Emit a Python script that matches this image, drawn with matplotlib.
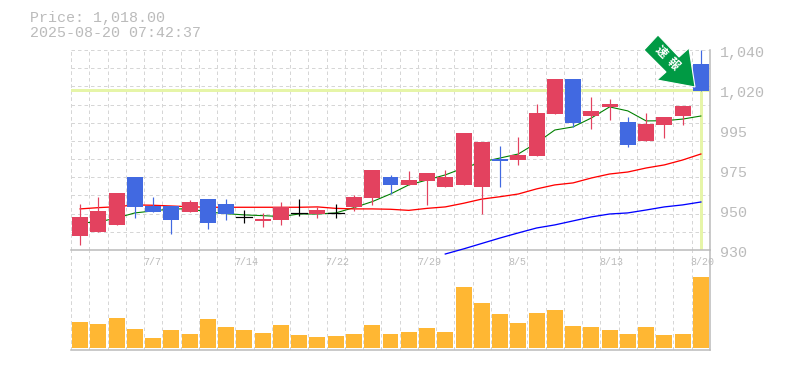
import matplotlib
matplotlib.use('Agg')
import matplotlib.pyplot as plt
import matplotlib.ticker as ticker
from matplotlib.patches import Polygon

# values
dates = ['7/7', '7/14', '7/22', '7/29', '8/5', '8/13', '8/20']
date_pos = [4, 9, 14, 19, 24, 29, 34]

body_top = [948.2, 951.5, 961.4, 970.2, 954.4, 954.2, 956.4, 958.1, 955.3, 948.0, 947.1, 953.7, 950.2,
            952.0, 950.2, 959.2, 974.0, 970.2, 968.5, 972.4, 970.2, 994.4, 989.4, 980.0, 982.3,
            1005.4, 1024.1, 1024.1, 1006.5, 1010.3, 1000.4, 999.3, 1003.2, 1009.2, 1032.3]
body_bot = [937.7, 939.9, 943.8, 953.7, 950.9, 946.5, 950.9, 944.9, 949.8, 948.0, 946.0, 946.5, 950.2,
            949.8, 950.2, 953.7, 958.6, 965.8, 965.8, 968.0, 964.7, 965.8, 964.7, 979.0, 979.5,
            981.7, 1004.8, 999.9, 1003.7, 1008.7, 987.8, 990.0, 998.8, 1003.7, 1017.5]
wick_top = [955.3, 959.2, 961.4, 970.2, 959.2, 954.2, 957.5, 958.1, 958.1, 952.0, 950.4, 956.4, 958.1,
            953.7, 955.3, 960.3, 974.0, 971.3, 973.5, 972.4, 974.0, 994.4, 989.4, 987.2, 992.2,
            1010.3, 1024.1, 1024.1, 1014.2, 1013.0, 1003.2, 1005.4, 1003.2, 1009.2, 1040.0]
wick_bot = [932.8, 939.9, 943.8, 947.6, 950.9, 938.8, 950.9, 941.6, 946.5, 944.9, 942.7, 943.8, 948.7,
            947.6, 947.6, 951.5, 954.8, 960.8, 965.8, 954.8, 964.7, 965.8, 949.8, 964.7, 976.8,
            981.7, 1004.8, 997.7, 996.6, 1001.5, 986.7, 990.0, 991.6, 998.8, 1017.5]
candle_col = ['r', 'r', 'r', 'b', 'b', 'b', 'r', 'b', 'b', 'k', 'r', 'r', 'k',
              'r', 'k', 'r', 'r', 'b', 'r', 'r', 'r', 'r', 'r', 'b', 'r',
              'r', 'r', 'b', 'r', 'r', 'b', 'r', 'r', 'r', 'b']

ma_short = [944.9, 945.4, 947.6, 950.4, 951.5, 952.6, 952.6, 950.9, 950.0, 949.3, 948.9, 948.4, 949.8,
            949.8, 950.4, 953.3, 956.6, 960.8, 965.8, 968.5, 971.3, 975.1, 978.4, 980.6, 982.8,
            988.9, 996.0, 997.7, 1002.6, 1008.7, 1006.5, 1001.0, 1001.1, 1002.0, 1003.7]
ma_mid = [952.6, 953.3, 953.8, 954.8, 954.6, 954.2, 953.8, 953.5, 953.5, 953.5, 953.5, 953.5, 953.5,
          953.7, 952.9, 952.6, 952.6, 952.4, 951.8, 952.9, 953.7, 955.7, 958.0, 959.3, 960.8,
          963.6, 965.8, 966.9, 969.6, 971.8, 972.9, 975.1, 976.8, 979.5, 982.8]
ma_long_idx = [20, 21, 22, 23, 24, 25, 26, 27, 28, 29, 30, 31, 32, 33, 34]
ma_long = [927.8, 930.6, 933.6, 936.6, 939.4, 942.1, 943.8, 946.0, 948.2, 949.8, 950.4, 952.0, 953.7, 954.8, 956.4]

volume = [26, 24, 30, 19, 10, 18, 14, 29, 21, 18, 15, 23, 13, 11, 12, 14, 23, 14,
          16, 20, 16, 61, 45, 34, 25, 35, 38, 22, 21, 18, 14, 21, 13, 14, 71]

price_now = 1018
y_ticks = [1040, 1018, 996, 974, 952, 930]
y_labels = ['1,040', '1,020', '995', '975', '950', '930']
title_lines = ['Price: 1,018.00', '2025-08-20 07:42:37']

W, H = 785, 370
GRAY = '#bbbbbb'
GRID = '#d6d6d6'
DASH = (0, (3.5, 3))
COLORS = {'r': '#e3425f', 'b': '#4169e1', 'k': 'black'}
px = 0.72  # one pixel in points at dpi 100
n = len(volume)

plt.rcParams['font.family'] = ['Liberation Mono', 'DejaVu Sans Mono']
fig = plt.figure(figsize=(W / 100, H / 100), dpi=100)
ax = fig.add_axes([71 / W, 1 - 250 / H, 639 / W, 200 / H], zorder=3)
vol = fig.add_axes([71 / W, 1 - 350 / H, 639 / W, 100 / H], zorder=2)

for a in (ax, vol):
    a.patch.set_visible(False)
    a.set_xlim(0, n)
    a.set_axisbelow(True)
    a.xaxis.set_major_locator(ticker.MultipleLocator(1))
    a.grid(axis='x', color=GRID, lw=px, ls=DASH)
    a.spines['left'].set_visible(False)
    a.spines['top'].set_visible(False)
    a.spines['right'].set_color(GRAY)
    a.spines['bottom'].set_color(GRAY)
    a.spines['bottom'].set_linewidth(1.1)
    a.spines['right'].set_linewidth(1.1)
    a.axvline(0, color=GRID, lw=px, ls=DASH, zorder=1)

ax.set_ylim(930, 1040)
ax.set_yticks([930 + 10 * i for i in range(12)])
ax.grid(axis='y', color=GRID, lw=px, ls=DASH)
ax.tick_params(which='both', length=0, labelbottom=False, labelleft=False)
vol.set_yticks([])
vol.tick_params(which='both', length=0, labelbottom=False, labelleft=False)

# current price cross hair
ax.axhline(price_now, color='#e6f5a8', lw=3 * px, zorder=2)
ax.plot([n - 0.5, n - 0.5], [930, price_now], color='#e6f5a8', lw=3 * px, zorder=2)

xs = [i + 0.5 for i in range(n)]
ax.plot(xs, ma_short, color='#008000', lw=1.1 * px, zorder=3)
ax.plot(xs, ma_mid, color='#ff0000', lw=1.3 * px, zorder=3)
ax.plot([i + 0.5 for i in ma_long_idx], ma_long, color='#0000ff', lw=1.3 * px, zorder=3, clip_on=False)

for i in range(n):
    c = COLORS[candle_col[i]]
    ax.plot([xs[i], xs[i]], [wick_bot[i], wick_top[i]], color=c, lw=1.2 * px, zorder=4,
            solid_capstyle='butt', clip_on=False)
    h = body_top[i] - body_bot[i]
    if h > 0:
        ax.bar(xs[i], h, bottom=body_bot[i], width=0.875, color=c, zorder=4)
    else:
        ax.plot([xs[i] - 0.44, xs[i] + 0.44], [body_top[i]] * 2, color=c, lw=1.2 * px, zorder=4)

# y labels sit a bit under their grid position
for v, lab in zip(y_ticks, y_labels):
    ax.annotate(lab, xy=(1, v), xycoords=ax.get_yaxis_transform(), xytext=(10 * px, -3.5 * px),
                textcoords='offset points', va='center', ha='left', fontsize=10.8, color=GRAY,
                annotation_clip=False)

for p, lab in zip(date_pos, dates):
    ax.annotate(lab, xy=(p, 0), xycoords=ax.get_xaxis_transform(), xytext=(-1 * px, -12 * px),
                textcoords='offset points', va='center', ha='left', fontsize=7.2, color=GRAY,
                annotation_clip=False)

vol.set_ylim(-2, 98)
vol.bar(xs, volume, width=0.875, color='#ffb733', zorder=3)

fig.text(30 / W, 1 - 18 / H, title_lines[0], fontsize=10.8, color=GRAY, va='center', ha='left')
fig.text(30 / W, 1 - 33 / H, title_lines[1], fontsize=10.8, color=GRAY, va='center', ha='left')

# arrow badge
arrow = [(658, 35), (644, 50), (666, 72), (657, 80), (695, 87), (689, 48), (679, 57)]
arrow = [(x / W, 1 - y / H) for x, y in arrow]
fig.add_artist(Polygon(arrow, closed=True, transform=fig.transFigure, facecolor='#009a44',
                       edgecolor='white', lw=0.8, zorder=10))
for ch, cx, cy in [('速', 661.5, 52), ('報', 673.5, 63.5)]:
    fig.text(cx / W, 1 - cy / H, ch, family=['Noto Sans CJK JP', 'DejaVu Sans'], fontsize=8.5,
             fontweight='bold', color='white', rotation=-45, ha='center', va='center',
             rotation_mode='anchor', zorder=11)

fig.savefig('out.png', dpi=100)
